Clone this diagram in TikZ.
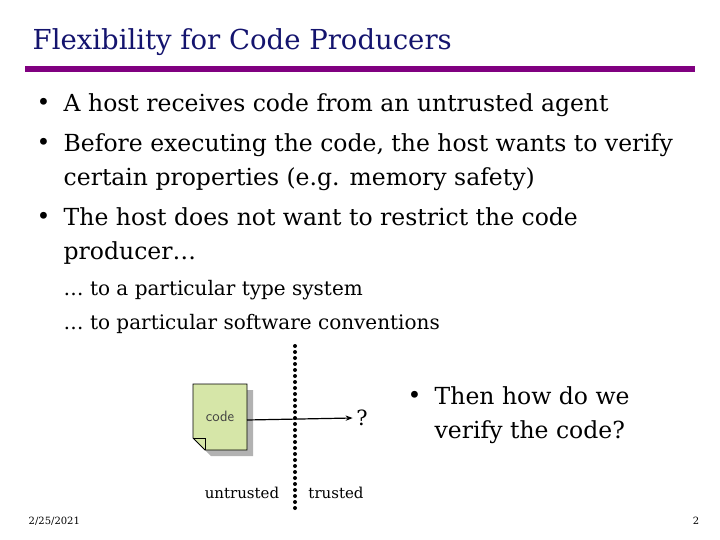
\documentclass[tikz,border=0pt]{standalone}
\usepackage{fontspec}
\setmainfont{DejaVu Serif}
\usetikzlibrary{arrows.meta}
\definecolor{titlepurple}{RGB}{128,0,128}
\definecolor{titleblue}{RGB}{20,20,110}
\definecolor{notegreen}{RGB}{214,230,168}
\newcommand{\bul}{\makebox[27pt][l]{\raisebox{1pt}{\textbullet}}}
\tikzset{
	every picture/.style={line width=0.75pt},
	bullet text/.style={anchor=west, font=\fontsize{23.5}{34}\selectfont, align=left},
	sub text/.style={anchor=west, font=\fontsize{20}{23}\selectfont},
	small text/.style={font=\fontsize{15}{18}\selectfont}}

\begin{document}
\begin{tikzpicture}[x=1pt,y=1pt,yscale=-1,xscale=1]
	\useasboundingbox (0,0) rectangle (720,540);

	% Title
	\node[anchor=west, font=\fontsize{27.5}{30}\selectfont, text=titleblue] (title) at (29,42) {Flexibility for Code Producers};
	\fill[titlepurple] (25,66) rectangle (695,72);

	% Bullets
	\node[bullet text] (b1) at (33,105) {\bul A host receives code from an untrusted agent};
	\node[bullet text] (b2) at (33,162) {\bul Before executing the code, the host wants to verify\\ \hphantom{\bul}certain properties (e.g. memory safety)};
	\node[bullet text] (b3) at (33,236) {\bul The host does not want to restrict the code\\ \hphantom{\bul}producer\dots};
	\node[sub text] (s1) at (60,290) {\dots\ to a particular type system};
	\node[sub text] (s2) at (60,324) {\dots\ to particular software conventions};

	% Code document
	\fill[gray!60] (199,390) -- (253,390) -- (253,456) -- (211,456) -- (199,444) -- cycle;
	\draw[fill=notegreen] (193,384) -- (247,384) -- (247,450) -- (205,450) -- (193,438) -- cycle;
	\draw (193,438) -- (205,438) -- (205,450);
	\node[small text, text=black!75] (code) at (220,416) {\sffamily code};
	\coordinate (codeR) at (247,420);

	% Dotted boundary
	\foreach \y in {346,352,...,510}
		\fill (295,\y) circle (2);

	\node[font=\fontsize{21}{26}\selectfont] (q) at (362,418) {?};
	\draw[line width=1.2pt, -{Stealth[length=7pt]}] (codeR) -- (q.west);

	\node[small text] (untr) at (242,493) {untrusted};
	\node[small text] (tr) at (336,493) {trusted};

	\node[bullet text] (b4) at (404,415) {\bul Then how do we\\ \hphantom{\bul}verify the code?};

	% Footer
	\node[anchor=west, font=\fontsize{10}{12}\selectfont] (date) at (25,521) {2/25/2021};
	\node[anchor=east, font=\fontsize{10}{12}\selectfont] (page) at (703,521) {2};
\end{tikzpicture}
\end{document}
